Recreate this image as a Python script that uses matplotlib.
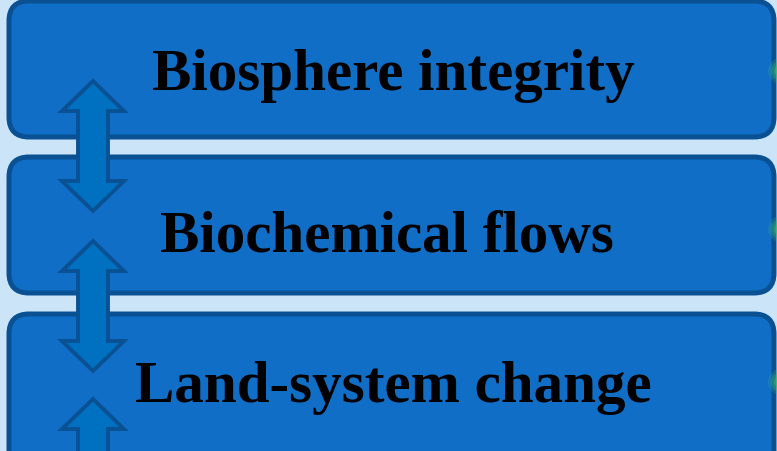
import matplotlib
matplotlib.use("Agg")
import matplotlib.pyplot as plt
from matplotlib.patches import FancyBboxPatch, Polygon, Circle

labels = ["Biosphere integrity", "Biochemical flows", "Land-system change"]
label_x = [393, 387, 393]
baseline_y = [90, 252, 402]
glow_y = [72, 230, 383]

BG = "#cce4f8"
BOX = "#106ec6"
EDGE = "#0a5194"
ARROW = "#0071c1"

fig = plt.figure(figsize=(7.77, 4.52), dpi=100)
fig.patch.set_facecolor(BG)
ax = fig.add_axes([0, 0, 1, 1])
ax.set_xlim(0, 777)
ax.set_ylim(452, 0)
ax.axis("off")

box_top = [2, 158, 315]
box_h = 136
for i, lab in enumerate(labels):
    y0 = box_top[i]
    h = box_h if i < 2 else 170
    ax.add_patch(FancyBboxPatch((9, y0), 765, h,
                                boxstyle="round,pad=0,rounding_size=20",
                                fc=BOX, ec=EDGE, lw=3.6, zorder=1))
    ax.text(label_x[i], baseline_y[i], lab, ha="center", va="baseline",
            fontsize=42.5, fontweight="bold", family="Liberation Serif",
            color="black", zorder=5)
    # little green glow on the right edge
    for r, a in [(13, 0.2), (10, 0.3), (7, 0.45), (4, 0.7)]:
        ax.add_patch(Circle((781, glow_y[i]), r, fc="#3dbb6a", ec="none",
                            alpha=a, zorder=2))


def double_arrow(cx, top, length, hw=31, hl=30, sw=15):
    bot = top + length
    pts = [(cx, top), (cx + hw, top + hl), (cx + sw, top + hl),
           (cx + sw, bot - hl), (cx + hw, bot - hl), (cx, bot),
           (cx - hw, bot - hl), (cx - sw, bot - hl), (cx - sw, top + hl),
           (cx - hw, top + hl)]
    ax.add_patch(Polygon(pts, closed=True, fc=ARROW, ec=EDGE, lw=2.8,
                         joinstyle="miter", zorder=3))


for top in [82, 242, 400]:
    double_arrow(93, top, 130)

fig.savefig("out.png", dpi=100, facecolor=BG)
